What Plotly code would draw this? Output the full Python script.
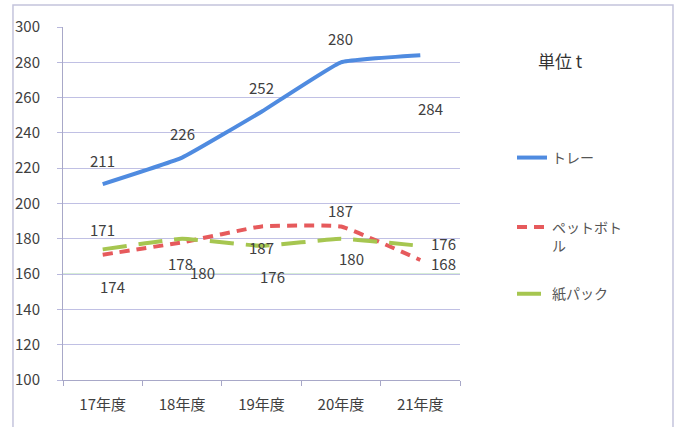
import plotly.graph_objects as go

categories = ["17年度", "18年度", "19年度", "20年度", "21年度"]
tray = [211, 226, 252, 280, 284]
pet = [171, 178, 187, 187, 168]
paper = [174, 180, 176, 180, 176]
names = ["トレー", "ペットボト<br>ル", "紙パック"]
colors = ["#4f8be0", "#e65a5c", "#a6c650"]

# label offsets (pixels) for each series' data labels
tray_off = [(0, 24), (0, 24), (0, 24), (0, 24), (10, -53)]
pet_off = [(0, 25), (-2, -21), (0, -21), (0, 16), (23, -4)]
paper_off = [(10, -37), (20, -34), (11, -31), (11, -20), (23, 2)]

FONT = "Noto Sans CJK JP, Noto Sans, sans-serif"
TXT = "#404040"

fig = go.Figure()
fig.add_trace(go.Scatter(x=categories, y=tray, mode="lines", name=names[0], showlegend=True,
                         line=dict(color=colors[0], width=4, shape="spline", smoothing=0.3),
                         legend="legend"))
fig.add_trace(go.Scatter(x=categories, y=pet, mode="lines", name=names[1], showlegend=True,
                         line=dict(color=colors[1], width=4, dash="10px,7px", shape="spline", smoothing=0.3),
                         legend="legend2"))
fig.add_trace(go.Scatter(x=categories, y=paper, mode="lines", name=names[2], showlegend=True,
                         line=dict(color=colors[2], width=4, dash="24px,12px", shape="spline", smoothing=0.3),
                         legend="legend3"))

ann = []
for vals, offs in ((tray, tray_off), (pet, pet_off), (paper, paper_off)):
    for c, v, (dx, dy) in zip(categories, vals, offs):
        ann.append(dict(x=c, y=v, xref="x", yref="y", text=str(v), showarrow=False,
                        xshift=dx, yshift=dy, font=dict(size=15, color=TXT, family=FONT)))
ann.append(dict(x=1.252, y=0.9065, xref="paper", yref="paper", text="単位 t", showarrow=False,
                xanchor="center", yanchor="middle",
                font=dict(size=17, color="#333333", family=FONT)))

shapes = [
    dict(type="line", xref="paper", yref="y", x0=0, x1=1, y0=160, y1=160,
         line=dict(color="#9ad39a", width=1), layer="below"),
    dict(type="rect", xref="paper", yref="paper", x0=-0.126, x1=1.5365, y0=-0.2, y1=1.0623,
         line=dict(color="#c4c4dc", width=1.5), layer="below"),
]

legfont = dict(size=14, color="#555555", family=FONT)
LX = 1.131
fig.update_layout(
    width=678, height=427,
    margin=dict(l=63, r=218, t=27, b=47),
    paper_bgcolor="white", plot_bgcolor="white",
    showlegend=True,
    font=dict(family=FONT, color=TXT),
    annotations=ann, shapes=shapes,
    legend=dict(x=LX, y=0.629, xanchor="left", yanchor="middle", font=legfont, bgcolor="rgba(0,0,0,0)"),
    legend2=dict(x=LX, y=0.4775, xanchor="left", yanchor="top", font=legfont, valign="top", bgcolor="rgba(0,0,0,0)"),
    legend3=dict(x=LX, y=0.243, xanchor="left", yanchor="middle", font=legfont, bgcolor="rgba(0,0,0,0)"),
    xaxis=dict(range=[-0.5, 4.5], tickson="boundaries", ticks="outside", ticklen=5,
               tickcolor="#a8a8c8", showline=True, linecolor="#a8a8c8", linewidth=1,
               showgrid=False, tickfont=dict(size=15, color=TXT), ticklabelstandoff=11),
    yaxis=dict(range=[100, 300], dtick=20, ticks="outside", ticklen=5, tickcolor="#b8b8dc",
               showline=True, linecolor="#a8a8c8", linewidth=1, gridcolor="#c0c0e4", gridwidth=1,
               zeroline=False, tickfont=dict(size=15, color=TXT), ticklabelstandoff=14),
)
fig.write_html("out.html")
